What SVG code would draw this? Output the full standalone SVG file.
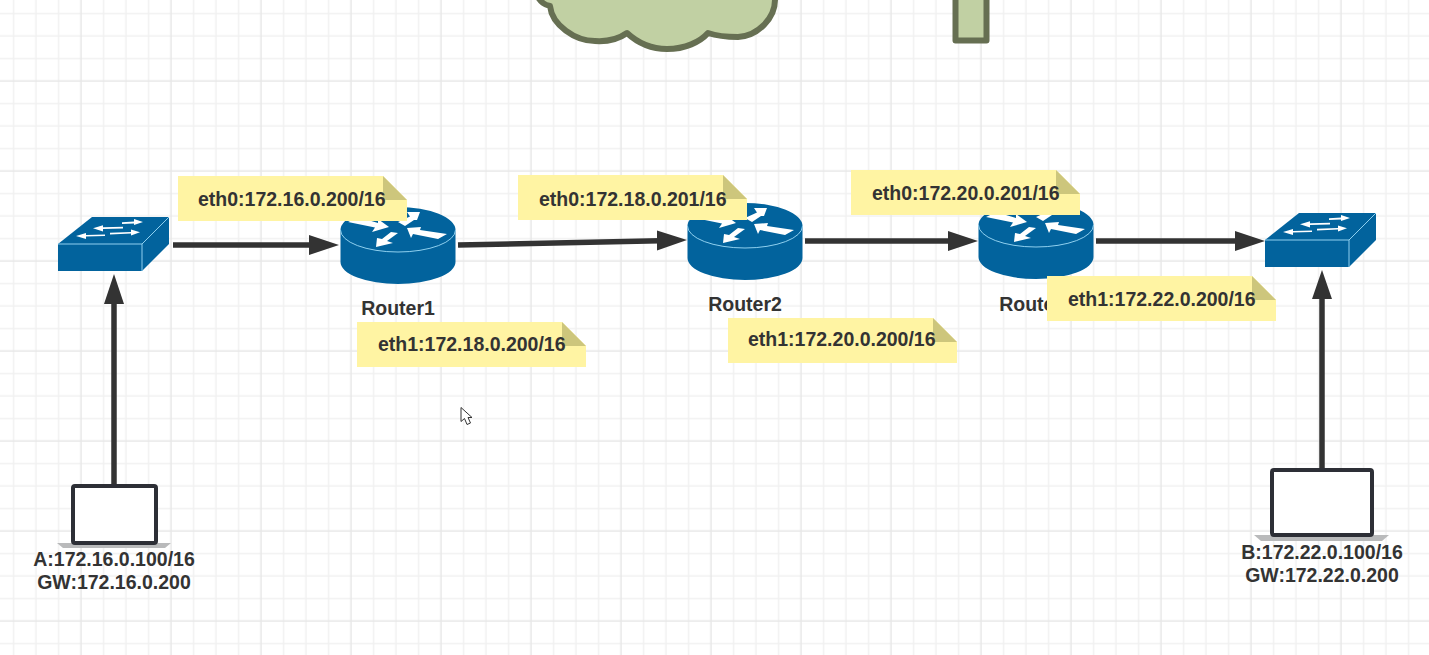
<svg xmlns="http://www.w3.org/2000/svg" width="1429" height="655" viewBox="0 0 1429 655">
  <style>
    text { font-family: "Liberation Sans", Arial, sans-serif; font-weight: bold; font-size: 19.5px; fill: #333333; }
    .mid { text-anchor: middle; }
    .minor { stroke: #f1f1f1; stroke-width: 1.5; fill: none; }
    .major { stroke: #e7e7e7; stroke-width: 1.5; fill: none; }
    .link { stroke: #333333; stroke-width: 5.5; fill: none; }
    .head { fill: #333333; }
    .blue { fill: #02639d; }
    .rim { fill: none; stroke: #8fd0ef; stroke-width: 1; }
    .glyph { fill: #ffffff; }
    .paper { fill: #fff4a3; }
    .fold { fill: #cdc67c; }
    .frame { fill: #ffffff; stroke: #2d2f36; stroke-width: 4; stroke-linejoin: round; }
    .foot { fill: #b9babb; }
    .green { fill: #c1d0a3; stroke: #666f52; stroke-width: 6; stroke-linejoin: round; }
  </style>
  <defs>
    <pattern id="grid" patternUnits="userSpaceOnUse" x="24.75" y="24.75" width="90" height="90">
      <path class="minor" d="M11.25 0V90M33.75 0V90M78.75 0V90M0 11.25H90M0 33.75H90M0 78.75H90"/>
      <path class="major" d="M56.25 0V90M0 56.25H90"/>
    </pattern>
    <g id="router-shape">
      <path class="blue" d="M0.5 23 A57.5 23 0 0 1 115.5 23 V55 A57.5 22 0 0 1 0.5 55 Z"/>
      <path class="rim" d="M0.5 23 A57.5 22 0 0 0 115.5 23"/>
      <polygon class="glyph" points="8,15 35,20.5 32,25 49,20 38,12 38,16 18,10"/>
      <polygon class="glyph" points="80,5 67,5 70,9.5 58,15 65,19 74,13 77,13"/>
      <polygon class="glyph" points="36,40 53,36 47,34 58,26 51,25 42,32 37,31"/>
      <polygon class="glyph" points="67,21 71,31 73,27 98,32 107,27 80,23 81,20"/>
    </g>
    <g id="switch-shape">
      <rect class="blue" x="0" y="27" width="84" height="27"/>
      <polygon class="blue" points="0,27 34,0 111,0 84,27"/>
      <polygon class="blue" points="84,27 111,0 111,27 84,54"/>
      <path class="rim" d="M0 27H84V54M84 27L111 0"/>
      <polygon class="glyph" points="64,5.2 76,4.6 76,2 85,5 76,8 76,6.4 64,7"/>
      <polygon class="glyph" points="35,11.3 45,8.2 45,10.2 65,9.8 65,11.4 45,12 45,14.4"/>
      <polygon class="glyph" points="52,15.8 73,15 73,12.4 82,15.3 73,18.4 73,16.6 52,17.4"/>
      <polygon class="glyph" points="18,19 28,16 28,18 47,17.4 47,19 28,19.6 28,22"/>
    </g>
    <g id="note-shape">
      <path class="paper" d="M0 0H205L229 24V45H0Z"/>
      <path class="fold" d="M205 0L229 24H205Z"/>
    </g>
  </defs>

  <rect width="1429" height="655" fill="#ffffff"/>
  <rect width="1429" height="655" fill="url(#grid)"/>

  <g id="cloud">
    <path class="green" d="M536 -6C541 3 545 5 550 6C552 25 575 41 595 41C610 42 620 38 627 33C640 45 655 49 667 49C685 49 700 42 708 33C720 37 730 37 738 37C758 36 775 18 775 0L775 -8Z"/>
  </g>
  <g id="tower">
    <rect class="green" x="955.5" y="-10" width="31" height="50.5"/>
  </g>

  <g id="connectors">
    <path class="link" d="M173 245H312"/>
    <polygon class="head" points="339,245 309,235 309,255"/>
    <path class="link" d="M458 245L660 240.7"/>
    <polygon class="head" points="687,240 657,230.6 657,250.6"/>
    <path class="link" d="M805 241H950"/>
    <polygon class="head" points="978,241 948,231 948,251"/>
    <path class="link" d="M1096 241H1238"/>
    <polygon class="head" points="1265,241 1235,231 1235,251"/>
    <path class="link" d="M114 485V300"/>
    <polygon class="head" points="114,274 104,304 124,304"/>
    <path class="link" d="M1322 470V295"/>
    <polygon class="head" points="1322,270 1312,299 1332,299"/>
  </g>

  <g id="switch-left"><use href="#switch-shape" x="58" y="217"/></g>
  <g id="switch-right"><use href="#switch-shape" x="1265" y="213"/></g>

  <g id="router1">
    <use href="#router-shape" x="340" y="207"/>
    <text class="mid" x="398" y="315">Router1</text>
  </g>
  <g id="router2">
    <use href="#router-shape" x="687" y="203"/>
    <text class="mid" x="745" y="311">Router2</text>
  </g>
  <g id="router3">
    <use href="#router-shape" x="978" y="202"/>
    <text class="mid" x="1036" y="311">Router3</text>
  </g>

  <g id="note-r1-eth0">
    <use href="#note-shape" x="178" y="176"/>
    <text x="198" y="206">eth0:172.16.0.200/16</text>
  </g>
  <g id="note-r1-eth1">
    <use href="#note-shape" x="357" y="322"/>
    <text x="378" y="351">eth1:172.18.0.200/16</text>
  </g>
  <g id="note-r2-eth0">
    <use href="#note-shape" x="518" y="175"/>
    <text x="539" y="206">eth0:172.18.0.201/16</text>
  </g>
  <g id="note-r2-eth1">
    <use href="#note-shape" x="728" y="318"/>
    <text x="748" y="346">eth1:172.20.0.200/16</text>
  </g>
  <g id="note-r3-eth0">
    <use href="#note-shape" x="851" y="170"/>
    <text x="872" y="200">eth0:172.20.0.201/16</text>
  </g>
  <g id="note-r3-eth1">
    <use href="#note-shape" x="1047" y="276"/>
    <text x="1068" y="306">eth1:172.22.0.200/16</text>
  </g>

  <g id="host-a">
    <polygon class="foot" points="57,543 171,543 165,548 63,548"/>
    <rect class="frame" x="73" y="486" width="83" height="57" rx="2"/>
    <text class="mid" x="114" y="566">A:172.16.0.100/16</text>
    <text class="mid" x="114" y="589">GW:172.16.0.200</text>
  </g>
  <g id="host-b">
    <polygon class="foot" points="1254,535 1389,535 1382,541 1261,541"/>
    <rect class="frame" x="1272" y="470" width="100" height="65" rx="2"/>
    <text class="mid" x="1322" y="559">B:172.22.0.100/16</text>
    <text class="mid" x="1322" y="582">GW:172.22.0.200</text>
  </g>

  <!-- pointer resting on the canvas -->
  <path id="pointer" d="M461 407.5V421.5L464.5 418.5L467 424.5L470.5 423L468 417.5L472 417.5Z" fill="#ffffff" stroke="#333333" stroke-width="1"/>
</svg>
